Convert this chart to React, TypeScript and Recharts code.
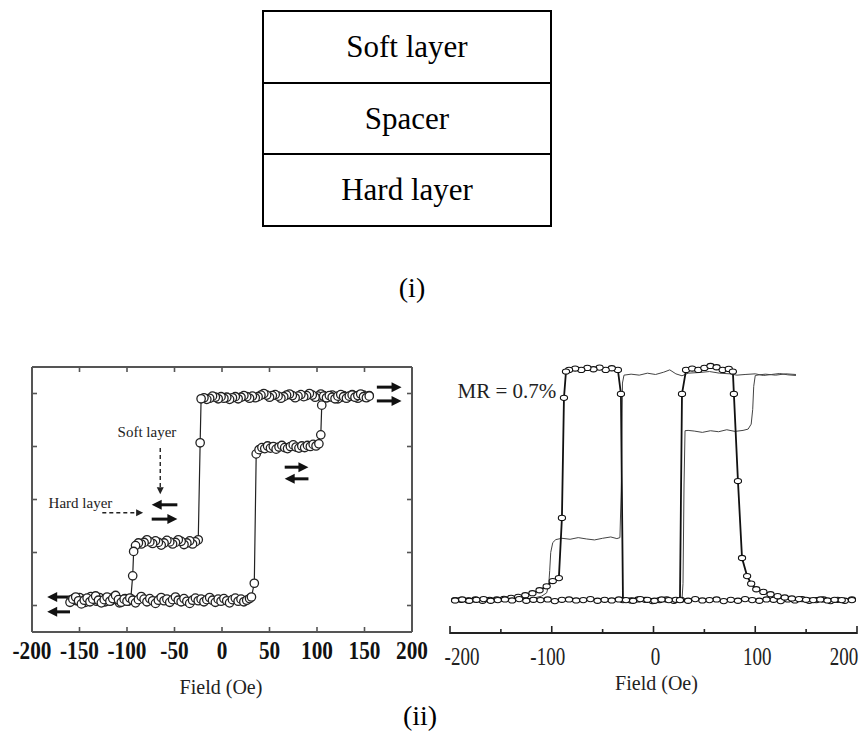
import React from 'react';
import { ComposedChart, Line, XAxis, YAxis, ReferenceLine, ReferenceDot } from 'recharts';

// ---------- (i) layer stack ----------
const layerNames = ['Soft layer', 'Spacer', 'Hard layer'];

// ---------- (ii) left: magnetization loop ----------
const leftDownField = [
  155, 152, 149, 146, 143, 140, 137, 134, 131, 128, 125, 122, 119, 116, 113, 110, 107, 104, 101, 98,
  95, 92, 89, 86, 83, 80, 77, 74, 71, 68, 65, 62, 59, 56, 53, 50, 47, 44, 41, 38,
  35, 32, 29, 26, 23, 20, 17, 14, 11, 8, 5, 2, -1, -4, -7, -10, -13, -16, -19, -22,
  -23, -25,
  -28, -31, -34, -37, -40, -43, -46, -49, -52, -55, -58, -61, -64, -67, -70, -73, -76, -79, -82, -85, -88, -91,
  -93, -94, -96,
  -99, -102, -105, -108, -111, -114, -117, -120, -123, -126, -129, -132, -135, -138, -141, -144, -147, -150, -153, -156, -159,
];
const leftDownSignal = [
  4.46, 4.43, 4.47, 4.44, 4.41, 4.45, 4.48, 4.44, 4.42, 4.46, 4.43, 4.40, 4.44, 4.47, 4.45, 4.42, 4.46, 4.49, 4.45, 4.43,
  4.47, 4.50, 4.46, 4.44, 4.48, 4.45, 4.42, 4.46, 4.49, 4.47, 4.44, 4.41, 4.45, 4.48, 4.46, 4.43, 4.47, 4.50, 4.47, 4.44,
  4.42, 4.45, 4.41, 4.44, 4.46, 4.43, 4.40, 4.44, 4.42, 4.39, 4.43, 4.41, 4.44, 4.40, 4.43, 4.45, 4.41, 4.39, 4.42, 4.40,
  3.57, 1.74,
  1.70, 1.66, 1.72, 1.68, 1.65, 1.71, 1.74, 1.69, 1.66, 1.70, 1.73, 1.68, 1.64, 1.69, 1.72, 1.67, 1.70, 1.74, 1.69, 1.66, 1.68, 1.63,
  1.52, 1.06, 0.63,
  0.58, 0.63, 0.60, 0.55, 0.61, 0.66, 0.59, 0.63, 0.57, 0.61, 0.65, 0.58, 0.62, 0.67, 0.60, 0.56, 0.62, 0.65, 0.59, 0.63, 0.60,
];
const leftUpField = [
  -160, -157, -154, -151, -148, -145, -142, -139, -136, -133, -130, -127, -124, -121, -118, -115, -112, -109, -106, -103,
  -100, -97, -94, -91, -88, -85, -82, -79, -76, -73, -70, -67, -64, -61, -58, -55, -52, -49, -46, -43,
  -40, -37, -34, -31, -28, -25, -22, -19, -16, -13, -10, -7, -4, -1, 2, 5, 8, 11, 14, 17, 20, 23, 26, 29,
  31, 34, 36,
  39, 42, 45, 48, 51, 54, 57, 60, 63, 66, 69, 72, 75, 78, 81, 84, 87, 90, 93, 96, 99, 102,
  104, 105, 107,
  110, 113, 116, 119, 122, 125, 128, 131, 134, 137, 140, 143, 146, 149, 152, 155,
];
const leftUpSignal = [
  0.56, 0.62, 0.66, 0.59, 0.53, 0.60, 0.64, 0.57, 0.62, 0.68, 0.60, 0.55, 0.61, 0.66, 0.58, 0.63, 0.69, 0.61, 0.56, 0.62,
  0.58, 0.64, 0.60, 0.55, 0.61, 0.67, 0.62, 0.57, 0.63, 0.59, 0.54, 0.60, 0.65, 0.59, 0.62, 0.56, 0.61, 0.66, 0.60, 0.57,
  0.63, 0.58, 0.54, 0.60, 0.64, 0.59, 0.62, 0.57, 0.61, 0.65, 0.60, 0.56, 0.62, 0.58, 0.63, 0.59, 0.55, 0.61, 0.64, 0.58,
  0.62, 0.57, 0.60, 0.63,
  0.66, 0.92, 3.36,
  3.44, 3.48, 3.46, 3.51, 3.47, 3.50, 3.45, 3.49, 3.52, 3.48, 3.46, 3.50, 3.53, 3.49, 3.47, 3.51, 3.48, 3.52, 3.50, 3.54, 3.51, 3.55,
  3.72, 4.28, 4.45,
  4.42, 4.46, 4.43, 4.40, 4.45, 4.48, 4.44, 4.41, 4.45, 4.47, 4.43, 4.46, 4.49, 4.44, 4.42, 4.45,
];
const leftFieldTicks = [-200, -150, -100, -50, 0, 50, 100, 150, 200];
const leftTopTicks = [-150, -100, -50, 0, 50, 100, 150];
const leftSignalTicks = [0.5, 1.5, 2.5, 3.5, 4.5];

// moment-direction arrows (field, signal)
const momentArrows = [
  { x1: 163, x2: 189, y: 4.62 },
  { x1: 163, x2: 189, y: 4.36 },
  { x1: 66, x2: 91, y: 3.11 },
  { x1: 91, x2: 66, y: 2.89 },
  { x1: -47, x2: -74, y: 2.4 },
  { x1: -74, x2: -47, y: 2.13 },
  { x1: -160, x2: -184, y: 0.66 },
  { x1: -160, x2: -184, y: 0.38 },
];
const layerPointers = [
  { x1: -65, y1: 3.47, x2: -65, y2: 2.6 },
  { x1: -126, y1: 2.25, x2: -83, y2: 2.25 },
];
const layerLabels = [
  { text: 'Soft layer', x: -79, y: 3.77 },
  { text: 'Hard layer', x: -149, y: 2.43 },
];

// ---------- (ii) right: MR curve ----------
const rightDownField = [195, 188, 181, 174, 167, 160, 153, 146, 139, 132, 125, 118, 111, 104, 97, 90, 83, 76, 69, 62, 55, 48, 41, 34, 27, 20, 13, 6, -1, -8, -15, -22, -30, -32, -35, -41, -47, -53, -59, -65, -71, -77, -83, -86, -88, -90, -93, -99, -105, -112, -119, -126, -133, -140, -147, -154, -161, -168, -175, -182, -189, -195];
const rightDownSignal = [0.002, -0.002, 0.001, -0.003, 0.002, 0, -0.002, 0.003, -0.001, 0.002, -0.003, 0.001, 0.002, -0.002, 0, 0.003, -0.002, 0.001, -0.003, 0.002, 0, -0.001, 0.003, -0.002, 0.001, -0.002, 0.002, 0, -0.003, 0.001, 0.002, -0.001, 0, 0.627, 0.7, 0.705, 0.7, 0.707, 0.702, 0.706, 0.7, 0.704, 0.7, 0.695, 0.615, 0.25, 0.067, 0.058, 0.042, 0.03, 0.021, 0.015, 0.01, 0.007, 0.004, 0.002, 0.001, -0.002, 0.002, -0.001, 0.001, 0];
const rightUpField = [-195, -188, -181, -174, -167, -160, -153, -146, -139, -132, -125, -118, -111, -104, -97, -90, -83, -76, -69, -62, -55, -48, -41, -34, -27, -20, -13, -6, 1, 8, 15, 22, 26, 28, 32, 38, 44, 50, 56, 62, 68, 74, 78, 79, 83, 87, 92, 96, 101, 108, 115, 122, 129, 136, 143, 150, 157, 164, 171, 178, 185, 195];
const rightUpSignal = [-0.001, 0.002, -0.002, 0.001, 0.003, -0.002, 0, 0.002, -0.001, 0.003, -0.002, 0.001, 0, 0.002, -0.003, 0.001, 0.002, -0.001, 0, 0.003, -0.002, 0.001, -0.001, 0.002, 0, -0.002, 0.003, 0.001, -0.002, 0.002, 0, 0.001, 0, 0.627, 0.7, 0.704, 0.7, 0.706, 0.712, 0.708, 0.7, 0.703, 0.695, 0.627, 0.362, 0.128, 0.073, 0.05, 0.033, 0.025, 0.018, 0.012, 0.008, 0.005, 0.003, 0.001, 0, 0.002, -0.001, 0.001, 0, 0];
const thinUpField = [-195, -170, -150, -130, -118, -110, -105, -103, -102, -101, -99, -96, -90, -82, -74, -66, -58, -50, -42, -36, -33, -31.5, -30.5, -29, -22, -14, -6, 2, 10, 16, 22, 28, 34, 45, 55, 65, 75, 82, 90, 100, 108, 116, 124, 132, 140];
const thinUpSignal = [0, 0, 0.001, 0.003, 0.006, 0.012, 0.022, 0.045, 0.09, 0.145, 0.175, 0.184, 0.188, 0.185, 0.19, 0.186, 0.183, 0.188, 0.192, 0.187, 0.19, 0.36, 0.66, 0.684, 0.687, 0.684, 0.69, 0.686, 0.693, 0.7, 0.688, 0.682, 0.69, 0.692, 0.695, 0.69, 0.688, 0.684, 0.686, 0.688, 0.683, 0.686, 0.689, 0.685, 0.683];
const thinDownField = [140, 130, 120, 110, 104, 100, 98.5, 97.5, 96, 93, 88, 80, 72, 64, 56, 48, 40, 34, 31, 30, 29, 28, 20, -40, -120, -195];
const thinDownSignal = [0.686, 0.688, 0.684, 0.687, 0.685, 0.683, 0.65, 0.58, 0.535, 0.52, 0.516, 0.513, 0.518, 0.512, 0.515, 0.51, 0.514, 0.516, 0.515, 0.35, 0.05, 0, 0, 0, 0, 0];
const rightFieldTicks = [-200, -150, -100, -50, 0, 50, 100, 150, 200];
const mrLabel = { text: 'MR = 0.7%', x: -95.5, y: 0.636 };

const zip = (xs: number[], ys: number[]) => xs.map((x, i) => ({ x, y: ys[i] }));

const SERIF = '"Liberation Serif", "Times New Roman", serif';
const FRAME = '#555';

const SolidArrow = (p: any) => {
  const { x1, y1, x2, y2 } = p;
  const dir = Math.sign(x2 - x1) || 1;
  const h = 10;
  return (
    <g>
      <line x1={x1} y1={y1} x2={x2 - dir * h * 0.7} y2={y2} stroke="#111" strokeWidth={3} />
      <polygon points={`${x2},${y2} ${x2 - dir * h},${y2 - 5} ${x2 - dir * h},${y2 + 5}`} fill="#111" />
    </g>
  );
};

const DashedArrow = (p: any) => {
  const { x1, y1, x2, y2 } = p;
  const dx = x2 - x1;
  const dy = y2 - y1;
  const len = Math.hypot(dx, dy) || 1;
  const ux = dx / len;
  const uy = dy / len;
  const h = 7;
  const w = 3.5;
  const bx = x2 - ux * h;
  const by = y2 - uy * h;
  return (
    <g>
      <line x1={x1} y1={y1} x2={bx} y2={by} stroke="#222" strokeWidth={1.4} strokeDasharray="4 3" />
      <polygon points={`${x2},${y2} ${bx - uy * w},${by + ux * w} ${bx + uy * w},${by - ux * w}`} fill="#222" />
    </g>
  );
};

const textShape = (text: string, size: number, anchor: string) => (p: any) => (
  <text x={p.cx} y={p.cy} dy="0.35em" textAnchor={anchor} fontSize={size} fontFamily={SERIF} fill="#222">
    {text}
  </text>
);

// inward tick marks for the frame sides (x, y come from the axis at tickSize 0)
const frameTick = (dx: number, dy: number) => (p: any) => (
  <line x1={p.x} y1={p.y} x2={p.x + dx} y2={p.y + dy} stroke={FRAME} strokeWidth={1.6} />
);

const LeftFieldTick = (p: any) => {
  const { x, y, payload } = p;
  const v = payload.value;
  return (
    <g>
      {Math.abs(v) < 200 && <line x1={x} y1={y} x2={x} y2={y - 5} stroke={FRAME} strokeWidth={1.6} />}
      <text
        transform={`translate(${x},${y + 27}) scale(0.85,1)`}
        textAnchor="middle"
        fontSize={25}
        fontWeight="bold"
        fontFamily={SERIF}
        fill="#111"
      >
        {v}
      </text>
    </g>
  );
};

const RightFieldTick = (p: any) => {
  const { x, y, payload, index } = p;
  const v = payload.value;
  const major = v % 100 === 0;
  const last = rightFieldTicks.length - 1;
  const dx = index === 0 ? 12 : index === last ? -13 : v < 0 ? -4 : 2;
  return (
    <g>
      <line x1={x} y1={y + 1} x2={x} y2={y - (major ? 7 : 4)} stroke="#222" strokeWidth={1.6} />
      {major && (
        <text
          transform={`translate(${x + dx},${y + 32}) scale(0.76,1)`}
          textAnchor="middle"
          fontSize={25}
          fontFamily={SERIF}
          fill="#222"
        >
          {v}
        </text>
      )}
    </g>
  );
};

const fieldTitle = (dy: number, dx: number) => (p: any) => {
  const vb = p.viewBox || { x: 0, y: 0, width: 0 };
  return (
    <text x={vb.x + vb.width / 2 + dx} y={vb.y + dy} textAnchor="middle" fontSize={20} fontFamily={SERIF} fill="#222">
      Field (Oe)
    </text>
  );
};

const OvalDot = (p: any) => {
  const { cx, cy, index } = p;
  if (cx == null || cy == null) return <g key={index} />;
  return <ellipse key={index} cx={cx} cy={cy} rx={3.6} ry={2.6} fill="#fff" stroke="#111" strokeWidth={1.1} />;
};

const frameStroke = { stroke: FRAME, strokeWidth: 2 };
const leftDot = { r: 4.2, fill: '#fff', stroke: '#222', strokeWidth: 1.3 };

function LeftChart() {
  return (
    <ComposedChart width={430} height={370} margin={{ top: 26, right: 17, bottom: 0, left: 31 }}>
      <XAxis
        xAxisId="b"
        type="number"
        dataKey="x"
        domain={[-200, 200]}
        ticks={leftFieldTicks}
        interval={0}
        height={78}
        tickSize={0}
        tickMargin={0}
        tickLine={false}
        axisLine={frameStroke}
        tick={LeftFieldTick}
        label={fieldTitle(62, -1)}
      />
      <XAxis
        xAxisId="t"
        orientation="top"
        type="number"
        dataKey="x"
        domain={[-200, 200]}
        ticks={leftTopTicks}
        interval={0}
        height={1}
        tickSize={0}
        tickMargin={0}
        tickLine={false}
        tick={frameTick(0, 5)}
        axisLine={frameStroke}
      />
      <YAxis
        yAxisId="l"
        type="number"
        domain={[0, 5]}
        ticks={leftSignalTicks}
        interval={0}
        width={1}
        tickSize={0}
        tickMargin={0}
        tickLine={false}
        tick={frameTick(5, 0)}
        axisLine={frameStroke}
      />
      <YAxis
        yAxisId="r"
        orientation="right"
        type="number"
        domain={[0, 5]}
        ticks={leftSignalTicks}
        interval={0}
        width={1}
        tickSize={0}
        tickMargin={0}
        tickLine={false}
        tick={frameTick(-5, 0)}
        axisLine={frameStroke}
      />
      {/* descending sweep is drawn on the top/right frame axes (same scales as bottom/left) */}
      <Line
        xAxisId="t"
        yAxisId="r"
        data={zip(leftDownField, leftDownSignal)}
        dataKey="y"
        type="linear"
        stroke="#222"
        strokeWidth={1.2}
        dot={leftDot}
        isAnimationActive={false}
      />
      <Line
        xAxisId="b"
        yAxisId="l"
        data={zip(leftUpField, leftUpSignal)}
        dataKey="y"
        type="linear"
        stroke="#222"
        strokeWidth={1.2}
        dot={leftDot}
        isAnimationActive={false}
      />
      {momentArrows.map((a, i) => (
        <ReferenceLine
          key={`ma${i}`}
          xAxisId="b"
          yAxisId="l"
          segment={[{ x: a.x1, y: a.y }, { x: a.x2, y: a.y }]}
          shape={SolidArrow}
        />
      ))}
      {layerPointers.map((a, i) => (
        <ReferenceLine
          key={`lp${i}`}
          xAxisId="b"
          yAxisId="l"
          segment={[{ x: a.x1, y: a.y1 }, { x: a.x2, y: a.y2 }]}
          shape={DashedArrow}
        />
      ))}
      {layerLabels.map((l) => (
        <ReferenceDot key={l.text} xAxisId="b" yAxisId="l" x={l.x} y={l.y} shape={textShape(l.text, 15, 'middle')} />
      ))}
    </ComposedChart>
  );
}

function RightChart() {
  return (
    <ComposedChart width={430} height={380} margin={{ top: 7, right: 3, bottom: 0, left: 20 }}>
      <XAxis
        xAxisId="b"
        type="number"
        dataKey="x"
        domain={[-200, 200]}
        ticks={rightFieldTicks}
        interval={0}
        height={77}
        tickSize={0}
        tickMargin={0}
        tickLine={false}
        axisLine={{ stroke: '#222', strokeWidth: 2 }}
        tick={RightFieldTick}
        label={fieldTitle(57, 3)}
      />
      <YAxis yAxisId="l" type="number" domain={[-0.1, 0.8]} hide />
      <Line
        xAxisId="b"
        yAxisId="l"
        data={zip(thinUpField, thinUpSignal)}
        dataKey="y"
        type="linear"
        stroke="#444"
        strokeWidth={1}
        dot={false}
        isAnimationActive={false}
      />
      <Line
        xAxisId="b"
        yAxisId="l"
        data={zip(thinDownField, thinDownSignal)}
        dataKey="y"
        type="linear"
        stroke="#444"
        strokeWidth={1}
        dot={false}
        isAnimationActive={false}
      />
      <Line
        xAxisId="b"
        yAxisId="l"
        data={zip(rightDownField, rightDownSignal)}
        dataKey="y"
        type="linear"
        stroke="#111"
        strokeWidth={1.8}
        dot={OvalDot}
        isAnimationActive={false}
      />
      <Line
        xAxisId="b"
        yAxisId="l"
        data={zip(rightUpField, rightUpSignal)}
        dataKey="y"
        type="linear"
        stroke="#111"
        strokeWidth={1.8}
        dot={OvalDot}
        isAnimationActive={false}
      />
      <ReferenceDot xAxisId="b" yAxisId="l" x={mrLabel.x} y={mrLabel.y} shape={textShape(mrLabel.text, 21, 'end')} />
    </ComposedChart>
  );
}

export default function App() {
  return (
    <div
      style={{
        position: 'absolute',
        left: 0,
        top: 0,
        width: 860,
        height: 733,
        background: '#fff',
        fontFamily: SERIF,
        color: '#000',
        overflow: 'hidden',
      }}
    >
      <div
        style={{
          position: 'absolute',
          left: 262,
          top: 10,
          width: 290,
          height: 217,
          border: '2px solid #000',
          boxSizing: 'border-box',
          display: 'flex',
          flexDirection: 'column',
        }}
      >
        {layerNames.map((n, i) => (
          <div
            key={n}
            style={{
              flex: 1,
              display: 'flex',
              alignItems: 'center',
              justifyContent: 'center',
              fontSize: 31,
              borderTop: i ? '2px solid #000' : 'none',
            }}
          >
            {n}
          </div>
        ))}
      </div>
      <div style={{ position: 'absolute', left: 362, width: 100, top: 271, textAlign: 'center', fontSize: 28, lineHeight: '34px' }}>
        (i)
      </div>
      <div style={{ position: 'absolute', left: 0, top: 340 }}>
        <LeftChart />
      </div>
      <div style={{ position: 'absolute', left: 430, top: 330 }}>
        <RightChart />
      </div>
      <div style={{ position: 'absolute', left: 370, width: 100, top: 699, textAlign: 'center', fontSize: 28, lineHeight: '34px' }}>
        (ii)
      </div>
    </div>
  );
}
